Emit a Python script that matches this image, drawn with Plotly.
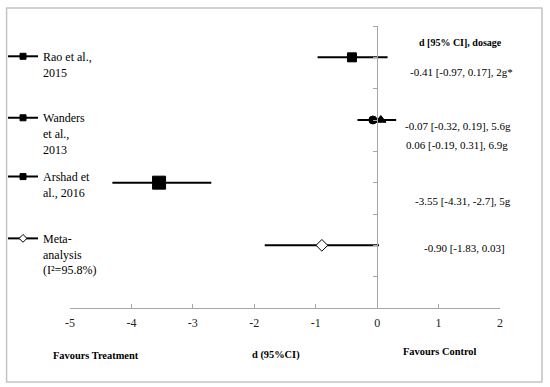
import plotly.graph_objects as go

# ---- data ----
studies = ["Rao et al.,<br>2015", "Wanders<br>et al.,<br>2013", "Arshad et<br>al., 2016", "Meta-<br>analysis<br>(I²=95.8%)"]
# individual estimates (Wanders has two dosages)
point_study = ["Rao", "Wanders 5.6g", "Wanders 6.9g", "Arshad", "Meta"]
point_row = [8, 6, 6, 4, 2]
effect = [-0.41, -0.07, 0.06, -3.55, -0.90]
ci_low = [-0.97, -0.32, -0.19, -4.31, -1.83]
ci_high = [0.17, 0.19, 0.31, -2.70, 0.03]
result_labels = ["-0.41 [-0.97, 0.17], 2g*", "-0.07 [-0.32, 0.19], 5.6g",
                 "0.06 [-0.19, 0.31], 6.9g", "-3.55 [-4.31, -2.7], 5g",
                 "-0.90 [-1.83, 0.03]"]
x_ticks = [-5, -4, -3, -2, -1, 0, 1, 2]

# ---- styles ----
FONT = "Liberation Serif"
marker_symbols = ["square", "circle", "triangle-up", "square", "diamond"]
marker_sizes = [9, 8, 9, 13, 9]
marker_fill = ["black", "black", "black", "black", "white"]
legend_symbols = ["square", "square", "square", "diamond"]

fig = go.Figure()

for i in range(len(effect)):
    fig.add_trace(go.Scatter(
        x=[effect[i]], y=[point_row[i]], mode="markers", showlegend=False,
        name=point_study[i],
        marker=dict(symbol=marker_symbols[i], size=marker_sizes[i], color=marker_fill[i],
                    line=dict(color="black", width=1)),
        error_x=dict(type="data", symmetric=False,
                     array=[ci_high[i] - effect[i]], arrayminus=[effect[i] - ci_low[i]],
                     color="black", thickness=2, width=0),
    ))

# legend entries (one legend per study, placed by the study rows)
legend_tops = [0.8915, 0.7326, 0.5806, 0.421]
for j, name in enumerate(studies):
    lg = "legend" if j == 0 else f"legend{j+1}"
    fig.add_trace(go.Scatter(
        x=[None], y=[None], mode="lines+markers", name=name, legend=lg,
        line=dict(color="black", width=2),
        marker=dict(symbol=legend_symbols[j], size=6,
                    color="black" if j < 3 else "white",
                    line=dict(color="black", width=1)),
    ))
    fig.update_layout(**{lg: dict(
        xref="container", yref="container", x=0.0055, y=legend_tops[j],
        xanchor="left", yanchor="top", valign="top", itemwidth=30,
        bgcolor="rgba(0,0,0,0)", borderwidth=0, tracegroupgap=0,
        font=dict(family=FONT, size=12, color="black"),
    )})

res_font = dict(family=FONT, size=11, color="black")
head_font = dict(family=FONT, size=10, color="black")
ann_pos = [(1.37, 7.53), (1.32, 5.81), (1.30, 5.20), (1.40, 3.42), (1.43, 1.92)]
annotations = [dict(x=1.35, y=8.46, xref="x", yref="y", text="<b>d [95% CI], dosage</b>",
                    showarrow=False, font=head_font)]
for (ax, ay), t in zip(ann_pos, result_labels):
    annotations.append(dict(x=ax, y=ay, xref="x", yref="y", text=t, showarrow=False, font=res_font))
bold_font = dict(family=FONT, size=10.4, color="black")
annotations += [
    dict(x=0.0616, y=-0.1667, xref="paper", yref="paper", text="<b>Favours Treatment</b>",
         showarrow=False, font=bold_font, xanchor="center", yanchor="middle"),
    dict(x=0.4785, y=-0.1667, xref="paper", yref="paper", text="<b>d (95%CI)</b>",
         showarrow=False, font=bold_font, xanchor="center", yanchor="middle"),
    dict(x=0.8606, y=-0.1525, xref="paper", yref="paper", text="<b>Favours Control</b>",
         showarrow=False, font=bold_font, xanchor="center", yanchor="middle"),
]

fig.update_layout(
    width=550, height=387,
    margin=dict(l=69.5, r=50, t=26, b=79, autoexpand=False),
    paper_bgcolor="white", plot_bgcolor="white",
    annotations=annotations,
    shapes=[dict(type="rect", xref="paper", yref="paper", x0=-0.1475, x1=1.0976,
                 y0=-0.2624, y1=1.0638, line=dict(color="#c4c4c4", width=1.5),
                 fillcolor="rgba(0,0,0,0)", layer="above")],
    xaxis=dict(range=[-5, 2], tickvals=x_ticks, ticktext=[str(v) for v in x_ticks],
               ticks="inside", ticklen=4, tickcolor="#a6a6a6",
               showline=True, linecolor="#a6a6a6", linewidth=1,
               showgrid=False, zeroline=False, ticklabelstandoff=4,
               tickfont=dict(family=FONT, size=12, color="#222")),
    yaxis=dict(range=[0, 9], dtick=1, anchor="free", position=5/7,
               ticks="outside", ticklen=4, tickcolor="#a6a6a6",
               showline=True, linecolor="#a6a6a6", linewidth=1,
               showgrid=False, zeroline=False, showticklabels=False),
)

fig.write_html("out.html", config={"displayModeBar": False},
               post_script="document.body.style.margin='0';document.body.style.overflow='hidden';")
